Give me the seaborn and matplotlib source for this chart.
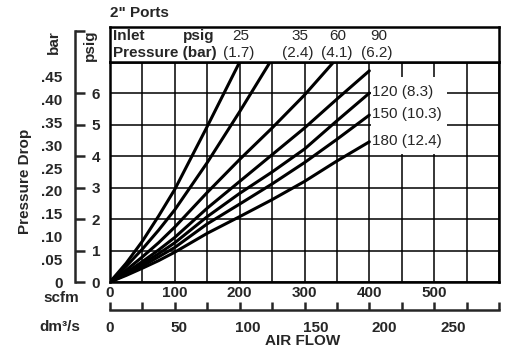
import numpy as np
import pandas as pd
import seaborn as sns
import matplotlib.pyplot as plt
from matplotlib.patches import Rectangle

# Inlet pressure curves: flow (scfm) vs pressure drop (psig)
inlet_psig = [25, 35, 60, 90, 120, 150, 180]
inlet_bar = ['1.7', '2.4', '4.1', '6.2', '8.3', '10.3', '12.4']

flow_25 = [0, 25, 50, 75, 100, 150, 200]
drop_25 = [0, 0.6, 1.3, 2.1, 2.95, 4.95, 7.0]
flow_35 = [0, 25, 50, 75, 100, 150, 200, 247]
drop_35 = [0, 0.5, 1.05, 1.65, 2.3, 3.8, 5.42, 7.0]
flow_60 = [0, 25, 50, 75, 100, 150, 200, 250, 300, 345]
drop_60 = [0, 0.38, 0.8, 1.25, 1.75, 2.85, 3.9, 4.9, 5.95, 7.0]
flow_90 = [0, 25, 50, 75, 100, 150, 200, 250, 300, 350, 400]
drop_90 = [0, 0.3, 0.65, 1.02, 1.42, 2.35, 3.2, 4.05, 4.9, 5.82, 6.72]
flow_120 = [0, 25, 50, 75, 100, 150, 200, 250, 300, 350, 400]
drop_120 = [0, 0.27, 0.58, 0.9, 1.25, 2.08, 2.82, 3.5, 4.23, 5.13, 6.01]
flow_150 = [0, 25, 50, 75, 100, 150, 200, 250, 300, 350, 400]
drop_150 = [0, 0.24, 0.51, 0.8, 1.1, 1.85, 2.48, 3.12, 3.8, 4.54, 5.31]
flow_180 = [0, 25, 50, 75, 100, 150, 200, 250, 300, 350, 400]
drop_180 = [0, 0.21, 0.44, 0.68, 0.95, 1.55, 2.08, 2.62, 3.2, 3.85, 4.46]

flows = [flow_25, flow_35, flow_60, flow_90, flow_120, flow_150, flow_180]
drops = [drop_25, drop_35, drop_60, drop_90, drop_120, drop_150, drop_180]

# axis ticks
scfm_labels = [0, 100, 200, 300, 400, 500]
dm3s_labels = [0, 50, 100, 150, 200, 250]
psig_ticks = [0, 1, 2, 3, 4, 5, 6]
bar_ticks = [0, .05, .10, .15, .20, .25, .30, .35, .40, .45]

PSI_TO_BAR = 0.0689476
SCFM_PER_DM3S = 2.11888

W, H = 509, 349
FS = 11


def box(x, y, w, h):
    # pixel box (from top left) -> figure fraction
    return [x / W, 1 - (y + h) / H, w / W, h / H]


rows = []
for p, q, d in zip(inlet_psig, flows, drops):
    for qi, di in zip(q, d):
        rows.append({'inlet': p, 'flow': qi, 'drop': di})
df = pd.DataFrame(rows)

sns.set_style('white')
plt.rcParams['font.family'] = ['Liberation Sans', 'DejaVu Sans']

fig = plt.figure(figsize=(W / 100, H / 100), dpi=100)

# main chart
ax = fig.add_axes(box(110, 62, 389, 220))
ax.set_xlim(0, 600)
ax.set_ylim(0, 7)
ax.set_axisbelow(True)
grid_x = np.arange(0, 601, 50)
ax.set_xticks(grid_x)
ax.set_xticklabels([str(int(v)) if v in scfm_labels else '' for v in grid_x],
                   fontweight='bold', fontsize=FS)
ax.set_yticks(np.arange(0, 8, 1))
ax.set_yticklabels([])
ax.grid(True, color='black', lw=1.1)
ax.tick_params(axis='both', length=0, pad=3)
for s in ax.spines.values():
    s.set_linewidth(1.8)
    s.set_color('black')

# white patch behind the right-hand labels
ax.add_patch(Rectangle((403, 4.08), 117, 2.45, facecolor='white', edgecolor='none', zorder=1))

sns.lineplot(data=df, x='flow', y='drop', hue='inlet', units='inlet', estimator=None,
             palette=['black'] * len(inlet_psig), lw=2.2, legend=False, ax=ax, zorder=3)
ax.set_xlabel('')
ax.set_ylabel('')

for p, b, q, d in zip(inlet_psig[4:], inlet_bar[4:], flows[4:], drops[4:]):
    ax.text(q[-1] + 4, d[-1] + 0.02, f'{p} ({b})', ha='left', va='center', fontsize=FS, zorder=4)

# header box
hx = fig.add_axes(box(110, 27, 389, 35))
hx.set_xlim(0, 600)
hx.set_ylim(0, 1)
hx.set_xticks([])
hx.set_yticks([])
for s in hx.spines.values():
    s.set_linewidth(1.8)
    s.set_color('black')
hx.text(5, 0.73, 'Inlet', fontweight='bold', fontsize=FS, va='center')
hx.text(112, 0.73, 'psig', fontweight='bold', fontsize=FS, va='center')
hx.text(5, 0.25, 'Pressure (bar)', fontweight='bold', fontsize=FS, va='center')
head_x = [201, 293, 352, 414]
for x, p, b in zip(head_x, inlet_psig[:4], inlet_bar[:4]):
    hx.text(x, 0.73, str(p), ha='center', va='center', fontsize=FS)
    hx.text(x - 3, 0.25, f'({b})', ha='center', va='center', fontsize=FS)

fig.text(110 / W, 1 - 13 / H, '2" Ports', fontweight='bold', fontsize=FS, va='center')

# left pressure scales (psig on the right of the spine, bar on the left)
top_psig = 8
axp = fig.add_axes(box(75, 282 - top_psig * 31.43, 0.01, top_psig * 31.43))
axp.set_ylim(0, top_psig)
axp.set_xticks([])
for s in ['top', 'bottom', 'left']:
    axp.spines[s].set_visible(False)
axp.spines['right'].set_linewidth(1.8)
axp.yaxis.tick_right()
axp.set_yticks(psig_ticks + [top_psig])
axp.set_yticklabels([str(v) for v in psig_ticks] + [''], fontweight='bold', fontsize=FS)
axp.tick_params(axis='y', direction='out', length=7, width=1.8, pad=5)
axp.patch.set_visible(False)

axb = fig.add_axes(box(75, 282 - top_psig * 31.43, 0.01, top_psig * 31.43))
axb.set_ylim(0, top_psig * PSI_TO_BAR)
axb.set_xticks([])
for s in axb.spines.values():
    s.set_visible(False)
axb.set_yticks(bar_ticks + [top_psig * PSI_TO_BAR])
axb.set_yticklabels(['0'] + [f'{v:.2f}'[1:] for v in bar_ticks[1:]] + [''],
                    fontweight='bold', fontsize=FS)
axb.tick_params(axis='y', direction='out', length=7, width=1.8, pad=2)
axb.patch.set_visible(False)

fig.text(54 / W, 1 - 42 / H, 'bar', rotation=90, fontweight='bold', fontsize=FS, ha='center', va='center')
fig.text(90 / W, 1 - 45 / H, 'psig', rotation=90, fontweight='bold', fontsize=FS, ha='center', va='center')
fig.text(25 / W, 1 - 181 / H, 'Pressure Drop', rotation=90, fontweight='bold', fontsize=FS,
         ha='center', va='center')

# bottom flow scale: scfm ticks above, dm3/s ticks below
axs = fig.add_axes(box(110, 310, 389, 0.01))
axs.set_xlim(0, 600)
axs.set_yticks([])
for s in ['top', 'left', 'right']:
    axs.spines[s].set_visible(False)
axs.spines['bottom'].set_linewidth(1.8)
axs.xaxis.set_ticks_position('top')
axs.set_xticks(grid_x)
axs.set_xticklabels([])
axs.tick_params(axis='x', direction='out', length=6, width=1.8)
axs.patch.set_visible(False)

dm_max = 600 / SCFM_PER_DM3S
axd = fig.add_axes(box(110, 310, 389, 0.01))
axd.set_xlim(0, dm_max)
axd.set_yticks([])
for s in axd.spines.values():
    s.set_visible(False)
dm_ticks = list(np.arange(0, 276, 25)) + [dm_max]
axd.set_xticks(dm_ticks)
axd.set_xticklabels([str(int(v)) if v in dm3s_labels else '' for v in dm_ticks],
                    fontweight='bold', fontsize=FS)
axd.tick_params(axis='x', direction='out', length=6, width=1.8, pad=2)
axd.patch.set_visible(False)

fig.text(61 / W, 1 - 298 / H, 'scfm', fontweight='bold', fontsize=FS, ha='center', va='center')
fig.text(60 / W, 1 - 327 / H, 'dm³/s', fontweight='bold', fontsize=FS, ha='center', va='center')
fig.text(303 / W, 1 - 341 / H, 'AIR FLOW', fontweight='bold', fontsize=FS, ha='center', va='center')

fig.savefig('out.png', dpi=100, facecolor='white')
